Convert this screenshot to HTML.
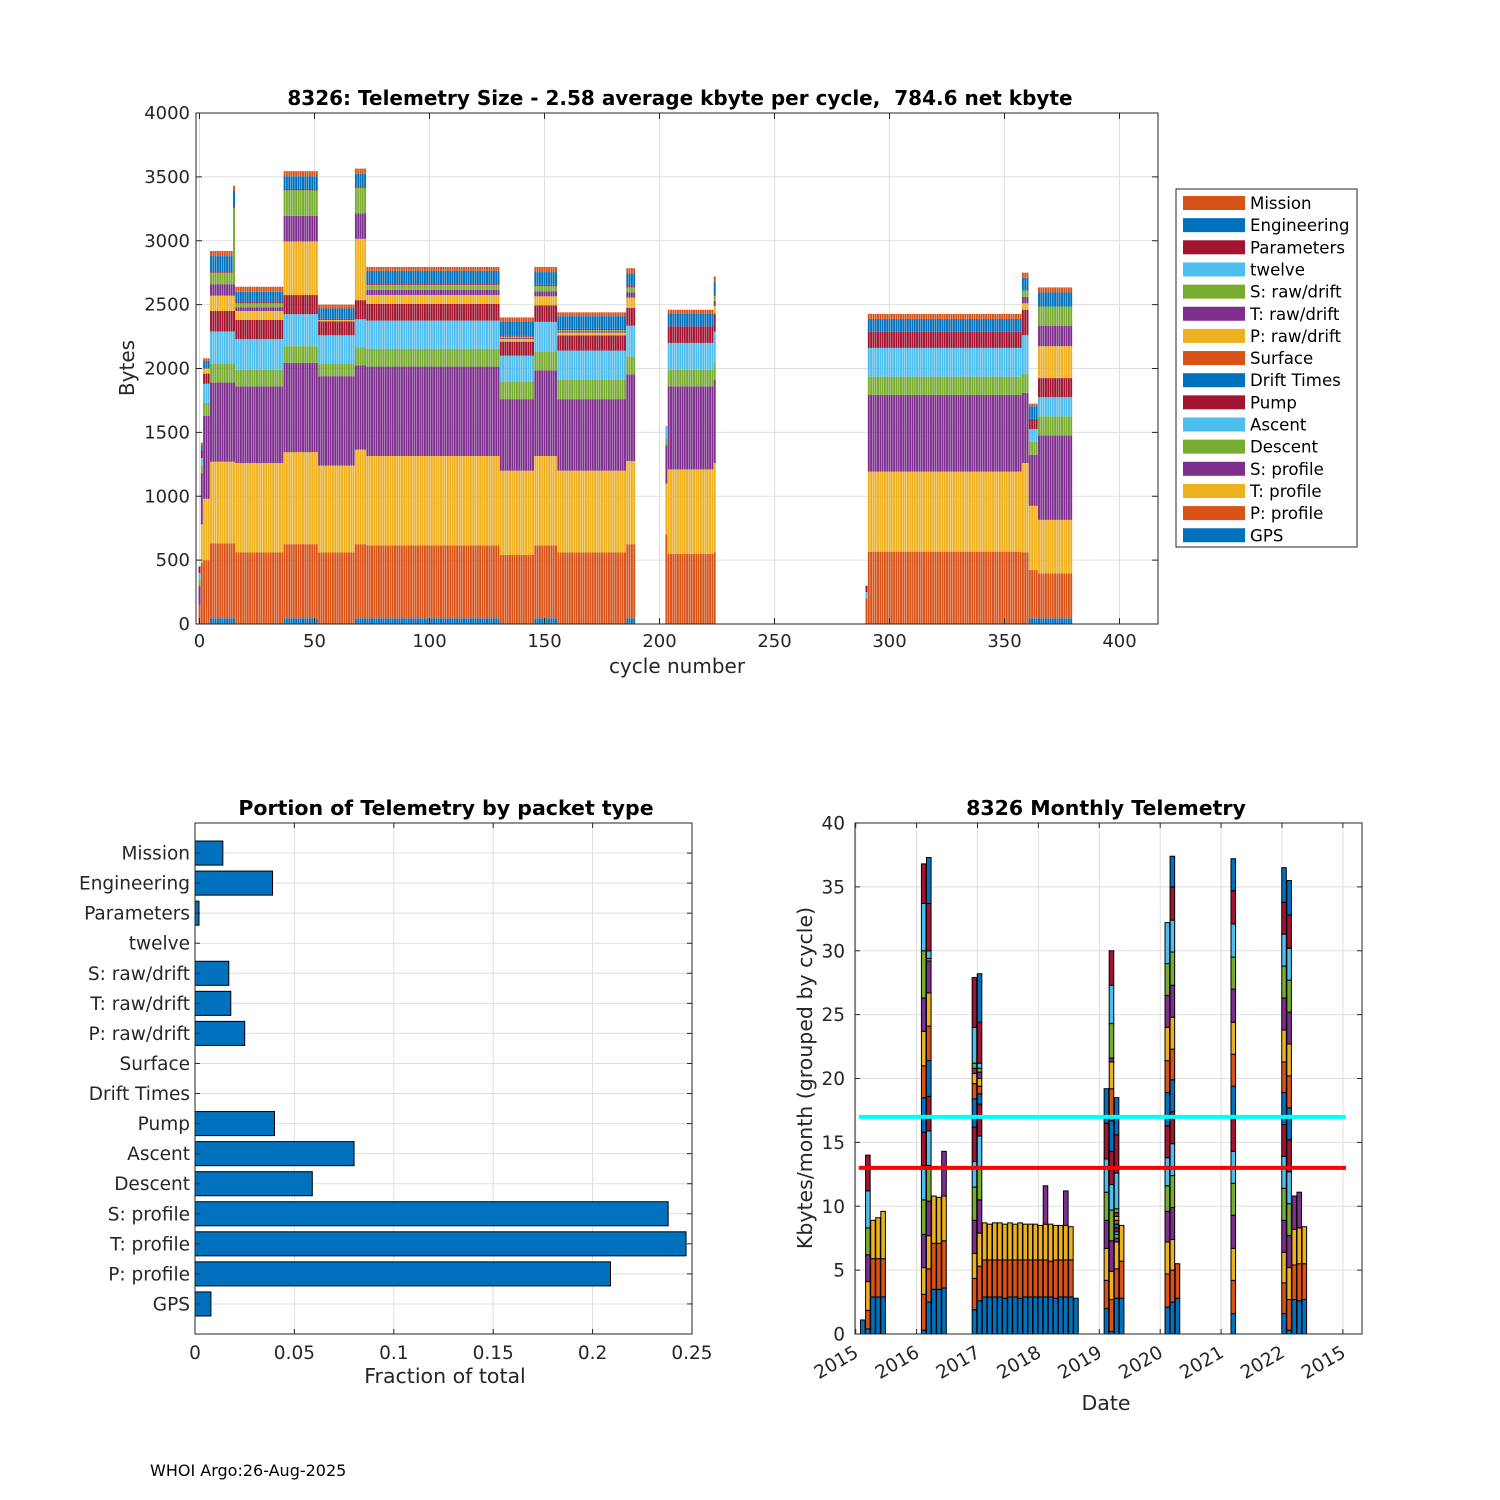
<!DOCTYPE html>
<html><head><meta charset="utf-8"><style>
html,body{margin:0;padding:0;background:#fff;}
svg{display:block;font-family:"DejaVu Sans","Liberation Sans",sans-serif;}
</style></head><body>
<svg id="root" width="1500" height="1500" viewBox="0 0 1500 1500" xmlns="http://www.w3.org/2000/svg">
<rect x="0" y="0" width="1500" height="1500" fill="#fff"/>
<g id="top"></g>
<g id="bl"></g>
<g id="br"></g>
<text x="150" y="1476" font-size="16" fill="#000">WHOI Argo:26-Aug-2025</text>
</svg>
<script>
// ---------- DATA ----------
const componentNames = ['GPS','P: profile','T: profile','S: profile','Descent','Ascent','Pump','Drift Times','Surface','P: raw/drift','T: raw/drift','S: raw/drift','twelve','Parameters','Engineering','Mission'];
const palette = ['#0072BD','#D95319','#EDB120','#7E2F8E','#77AC30','#4DBEEE','#A2142F'];
// runs: [firstCycle, lastCycle, then bytes per component in componentNames order]
const cycleRuns = [
 [0,0,    0,150,0,150,50,50,50,0,0,0,0,0,0,0,0,0],
 [1,1,    0,480,300,400,60,60,60,0,0,0,0,0,0,0,40,20],
 [2,4,    0,500,480,650,100,150,80,0,0,40,0,0,0,0,60,20],
 [5,14,   45,585,640,620,150,250,160,0,0,120,90,90,0,10,120,40],
 [15,15,  45,585,640,620,150,250,160,0,0,120,90,600,0,10,120,40],
 [16,36,  0,560,700,600,130,240,150,0,0,70,30,30,0,10,80,40],
 [37,51,  45,580,720,700,130,250,150,0,0,420,200,200,0,10,100,40],
 [52,67,  0,560,680,700,100,220,110,0,0,10,0,0,0,10,80,30],
 [68,72,  45,580,740,660,140,220,150,0,0,480,200,200,0,10,100,40],
 [73,130, 45,570,700,700,140,220,130,0,0,70,40,40,0,10,100,30],
 [131,145,0,540,660,560,140,200,110,0,0,20,10,10,0,10,110,30],
 [146,155,45,570,700,670,150,230,130,0,0,70,40,40,0,10,100,40],
 [156,185,0,560,640,560,150,230,120,0,0,20,10,10,0,10,100,30],
 [186,189,45,580,650,680,140,240,140,0,0,80,40,40,0,10,100,40],
 [203,203,0,700,400,300,50,100,0,0,0,0,0,0,0,0,0,0],
 [204,223,0,550,660,650,130,210,130,0,0,0,0,0,0,0,100,30],
 [224,224,0,560,700,650,140,240,140,0,0,60,40,40,0,10,100,40],
 [290,290,0,200,0,0,0,50,50,0,0,0,0,0,0,0,0,0],
 [291,357,0,566,627,600,143,225,117,0,0,0,0,0,0,10,100,40],
 [358,360,0,560,700,550,150,300,200,0,0,50,50,50,0,0,100,40],
 [361,364,45,380,500,400,100,100,80,0,0,0,0,0,0,0,100,20],
 [365,379,45,350,420,660,150,150,150,0,0,250,160,150,0,0,110,40]
];
const xTicksTop = [0,50,100,150,200,250,300,350,400];
const yTicksTop = [0,500,1000,1500,2000,2500,3000,3500,4000];

const fractionLabels = ['GPS','P: profile','T: profile','S: profile','Descent','Ascent','Pump','Drift Times','Surface','P: raw/drift','T: raw/drift','S: raw/drift','twelve','Parameters','Engineering','Mission'];
const fractionValues = [0.008,0.209,0.247,0.238,0.059,0.080,0.040,0,0,0.025,0.018,0.017,0,0.002,0.039,0.014];
const xTicksFrac = [0,0.05,0.1,0.15,0.2,0.25];
const xTickLabelsFrac = ['0','0.05','0.1','0.15','0.2','0.25'];

// monthly bars: month index from Jan 2015, cumulative segment tops (kbytes)
const monthIdx = [1,2,3,4,5,13,14,15,16,17,23,24,25,26,27,28,29,30,31,32,33,34,35,36,37,38,39,40,41,42,43,49,50,51,52,61,62,63,74,84,85,86,87,88];
const monthTops = [
 [1.1],
 [0.4,1.85,4.1,6.2,8.3,11.2,14.0],
 [2.9,5.9,8.9],[2.9,5.9,9.1],[2.9,5.9,9.6],
 [0.3,3.1,5.2,7.8,10.5,13.2,15.8,18.5,21,23.7,26.3,30,33.7,36.8],
 [2.5,5.1,7.7,10.4,13.2,15.9,18.6,21.4,24.1,26.7,29.2,29.4,30,33.7,37.3],
 [3.5,7.1,10.8],[3.5,7.1,10.7],[3.6,7.3,10.8,14.3],
 [1.9,4.35,6.3,8.9,11.5,13.5,16.2,18.4,19.6,20.4,20.8,21.2,24.0,27.9],
 [2.6,5.3,7.9,10.5,13,15.5,18,18.8,19.4,20,20.5,20.8,21.2,24.4,28.2],
 [2.9,5.8,8.7],[2.9,5.8,8.6],[2.9,5.8,8.7],[2.9,5.8,8.7],[2.8,5.8,8.6],[2.9,5.8,8.7],[2.9,5.8,8.6],[2.8,5.8,8.7],[2.9,5.8,8.6],[2.9,5.8,8.6],[2.9,5.8,8.6],[2.9,5.8,8.5],[2.9,5.8,8.6,11.6],[2.9,5.7,8.6],[2.8,5.8,8.5],[2.9,5.8,8.5],[2.9,5.8,8.5,11.2],[2.9,5.8,8.4],[2.8],
 [2.0,4.2,6.7,8.9,11.1,13.7,16.5,19.2],
 [0.2,2.7,4.9,7.3,9.7,11.7,14.3,16.7,19.2,21.3,21.6,24.3,27.3,30],
 [2.8,5.1,7.2,7.5,7.8,8.0,8.3,8.6,8.9,9.2,9.5,9.8,12.6,15.6,18.5],
 [2.8,5.7,8.5],
 [2.1,4.7,7.2,9.6,11.6,13.8,16.3,18.9,21.4,24,26.5,29,32.2],
 [2.5,5,7.4,9.9,12.4,14.9,17.4,19.9,22.3,24.8,27.3,29.9,32.4,35,37.4],
 [2.8,5.5],
 [1.6,4.2,6.7,9.3,11.8,14.3,16.9,19.4,21.9,24.4,27,29.5,32.1,34.7,37.2],
 [1.6,4.0,6.4,8.9,11.4,13.9,16.4,18.9,21.3,23.8,26.3,28.8,31.3,33.8,36.5],
 [0.3,2.7,5.2,7.7,10.2,12.7,15.2,17.7,20.2,22.7,25.2,27.7,30.2,32.8,35.5],
 [2.7,5.4,8.2,10.8],[2.6,5.5,8.3,11.1],[2.7,5.5,8.4]
];
const refLineCyan = 17;
const refLineRed = 13;
const yTicksMonthly = [0,5,10,15,20,25,30,35,40];
const xTickYears = [2015,2016,2017,2018,2019,2020,2021,2022,2023];
const xTickYearLabels = ['2015','2016','2017','2018','2019','2020','2021','2022','2015'];

// ---------- HELPERS ----------
const NS = 'http://www.w3.org/2000/svg';
function mk(parent, tag, attrs, text){
  const e = document.createElementNS(NS, tag);
  for (const k in attrs) e.setAttribute(k, attrs[k]);
  if (text !== undefined) e.textContent = text;
  parent.appendChild(e);
  return e;
}
const GRID = '#dfdfdf', AX = '#262626';

// ---------- TOP CHART ----------
(function(){
  const g = document.getElementById('top');
  const L=196, R=1158, T=113, B=624;
  const x0 = 199.5, pxPerCycle = 2.3;
  const xs = c => x0 + c*pxPerCycle;
  const ys = v => B - v*(B-T)/4000;
  xTicksTop.forEach(t=>{
    const l = mk(g,'line',{x1:xs(t),x2:xs(t),y1:T,y2:B,stroke:GRID,'stroke-width':1});
    
    
  });
  yTicksTop.forEach(t=>{
    const l = mk(g,'line',{x1:L,x2:R,y1:ys(t),y2:ys(t),stroke:GRID,'stroke-width':1});
    
    
  });
  cycleRuns.forEach(run=>{
    for(let c=run[0]; c<=run[1]; c++){
      let cum = 0;
      for(let k=0;k<componentNames.length;k++){
        const v = run[2+k];
        if(!v) continue;
        const r = mk(g,'rect',{x:xs(c)-pxPerCycle*0.42,width:pxPerCycle*0.84,y:ys(cum+v),height:ys(cum)-ys(cum+v),fill:palette[k%7]});
        
        
        cum += v;
      }
    }
  });
  const box = mk(g,'rect',{x:L,y:T,width:R-L,height:B-T,fill:'none',stroke:AX,'stroke-width':1});
  
  
  xTicksTop.forEach(t=>{
    mk(g,'line',{x1:xs(t),x2:xs(t),y1:B,y2:B-6,stroke:AX});
    mk(g,'line',{x1:xs(t),x2:xs(t),y1:T,y2:T+6,stroke:AX});
    const tx = mk(g,'text',{x:xs(t),y:B+23,'font-size':18,'text-anchor':'middle',fill:AX},String(t));
    
    
  });
  yTicksTop.forEach(t=>{
    mk(g,'line',{x1:L,x2:L+6,y1:ys(t),y2:ys(t),stroke:AX});
    mk(g,'line',{x1:R,x2:R-6,y1:ys(t),y2:ys(t),stroke:AX});
    const tx = mk(g,'text',{x:L-6,y:ys(t)+6,'font-size':18,'text-anchor':'end',fill:AX},String(t));
    
    
  });
  const xl = mk(g,'text',{x:677,y:673,'font-size':20,'text-anchor':'middle',fill:AX},'cycle number');
  
  
  const yl = mk(g,'text',{x:0,y:0,'font-size':20,'text-anchor':'middle',fill:AX,transform:'translate(134,368) rotate(-90)'},'Bytes');
  
  
  const ti = mk(g,'text',{x:680,y:105,'font-size':20,'font-weight':'bold','text-anchor':'middle',fill:'#000','xml:space':'preserve',style:'white-space:pre'},'8326: Telemetry Size - 2.58 average kbyte per cycle,  784.6 net kbyte');
  
  
  // legend
  const lg = mk(g,'g',{});
  
  
  const lb = mk(lg,'rect',{x:1176,y:189,width:181,height:358,fill:'#fff',stroke:AX,'stroke-width':1});
  
  
  for(let i=0;i<componentNames.length;i++){
    const k = componentNames.length-1-i;
    const yy = 203 + i*22.15;
    const sw = mk(lg,'rect',{x:1183,y:yy-7,width:62,height:14,fill:palette[k%7]});
    
    
    const tx = mk(lg,'text',{x:1250,y:yy+6,'font-size':16.6,fill:'#000'},componentNames[k]);
    
    
  }
})();

// ---------- BOTTOM LEFT ----------
(function(){
  const g = document.getElementById('bl');
  const L=195, R=692, T=823, B=1334;
  const xs = v => L + v*(R-L)/0.25;
  const ys = i => B - (i+1)*(B-T)/17;
  const unit = (B-T)/17;
  xTicksFrac.forEach(t=>{ mk(g,'line',{x1:xs(t),x2:xs(t),y1:T,y2:B,stroke:GRID}); });
  fractionLabels.forEach((n,i)=>{ mk(g,'line',{x1:L,x2:R,y1:ys(i),y2:ys(i),stroke:GRID}); });
  fractionValues.forEach((v,i)=>{
    if(v<=0) return;
    const r = mk(g,'rect',{x:xs(0),y:ys(i)-unit*0.4,width:xs(v)-xs(0),height:unit*0.8,fill:'#0072BD',stroke:'#000','stroke-width':1});
    
    
  });
  const box = mk(g,'rect',{x:L,y:T,width:R-L,height:B-T,fill:'none',stroke:AX});
  
  
  xTicksFrac.forEach((t,i)=>{
    mk(g,'line',{x1:xs(t),x2:xs(t),y1:B,y2:B-5,stroke:AX});
    mk(g,'line',{x1:xs(t),x2:xs(t),y1:T,y2:T+5,stroke:AX});
    const tx = mk(g,'text',{x:xs(t),y:B+25,'font-size':18.5,'text-anchor':'middle',fill:AX},xTickLabelsFrac[i]);
    
    
  });
  fractionLabels.forEach((n,i)=>{
    mk(g,'line',{x1:L,x2:L+5,y1:ys(i),y2:ys(i),stroke:AX});
    mk(g,'line',{x1:R,x2:R-5,y1:ys(i),y2:ys(i),stroke:AX});
    const tx = mk(g,'text',{x:L-5,y:ys(i)+6.5,'font-size':18.5,'text-anchor':'end',fill:AX},n);
    
    
  });
  const xl = mk(g,'text',{x:445,y:1383,'font-size':20.5,'text-anchor':'middle',fill:AX},'Fraction of total');
  
  
  const ti = mk(g,'text',{x:446,y:815,'font-size':20.5,'font-weight':'bold','text-anchor':'middle',fill:'#000'},'Portion of Telemetry by packet type');
  
  
})();

// ---------- BOTTOM RIGHT ----------
(function(){
  const g = document.getElementById('br');
  const L=855, R=1362, T=823, B=1334;
  const x2015 = 855.7, pxYear = 60.9;
  const xs = yr => x2015 + (yr-2015)*pxYear;
  const xm = m => xs(2015 + (m+0.4)/12);
  const ys = v => B - v*(B-T)/40;
  xTickYears.forEach(t=>{ mk(g,'line',{x1:xs(t),x2:xs(t),y1:T,y2:B,stroke:GRID}); });
  yTicksMonthly.forEach(t=>{ mk(g,'line',{x1:L,x2:R,y1:ys(t),y2:ys(t),stroke:GRID}); });
  const bw = pxYear/12*0.9;
  monthIdx.forEach((m,i)=>{
    const tops = monthTops[i];
    let prev = 0;
    tops.forEach((tp,k)=>{
      const r = mk(g,'rect',{x:xm(m)-bw/2,width:bw,y:ys(tp),height:ys(prev)-ys(tp),fill:palette[k%7],stroke:'#000','stroke-width':1});
      
      
      prev = tp;
    });
  });
  const lc = mk(g,'line',{x1:xs(2015.05),x2:xs(2023.05),y1:ys(refLineCyan),y2:ys(refLineCyan),stroke:'#00FFFF','stroke-width':4});
  
  
  const lr = mk(g,'line',{x1:xs(2015.05),x2:xs(2023.05),y1:ys(refLineRed),y2:ys(refLineRed),stroke:'#FF0000','stroke-width':4});
  
  
  const box = mk(g,'rect',{x:L,y:T,width:R-L,height:B-T,fill:'none',stroke:AX});
  
  
  xTickYears.forEach((t,i)=>{
    mk(g,'line',{x1:xs(t),x2:xs(t),y1:B,y2:B-5,stroke:AX});
    mk(g,'line',{x1:xs(t),x2:xs(t),y1:T,y2:T+5,stroke:AX});
    const tx = mk(g,'text',{x:0,y:0,'font-size':18.5,'text-anchor':'end',fill:AX,transform:'translate('+(xs(t)+4)+','+(B+22)+') rotate(-30)'},xTickYearLabels[i]);
    
    
  });
  yTicksMonthly.forEach(t=>{
    mk(g,'line',{x1:L,x2:L+5,y1:ys(t),y2:ys(t),stroke:AX});
    mk(g,'line',{x1:R,x2:R-5,y1:ys(t),y2:ys(t),stroke:AX});
    const tx = mk(g,'text',{x:L-10,y:ys(t)+6.5,'font-size':18.5,'text-anchor':'end',fill:AX},String(t));
    
    
  });
  const xl = mk(g,'text',{x:1106,y:1410,'font-size':20.5,'text-anchor':'middle',fill:AX},'Date');
  
  
  const yl = mk(g,'text',{x:0,y:0,'font-size':20.5,'text-anchor':'middle',fill:AX,transform:'translate(812,1078) rotate(-90)'},'Kbytes/month (grouped by cycle)');
  
  
  const ti = mk(g,'text',{x:1106,y:815,'font-size':20.5,'font-weight':'bold','text-anchor':'middle',fill:'#000'},'8326 Monthly Telemetry');
  
  
})();
</script>
</body></html>
